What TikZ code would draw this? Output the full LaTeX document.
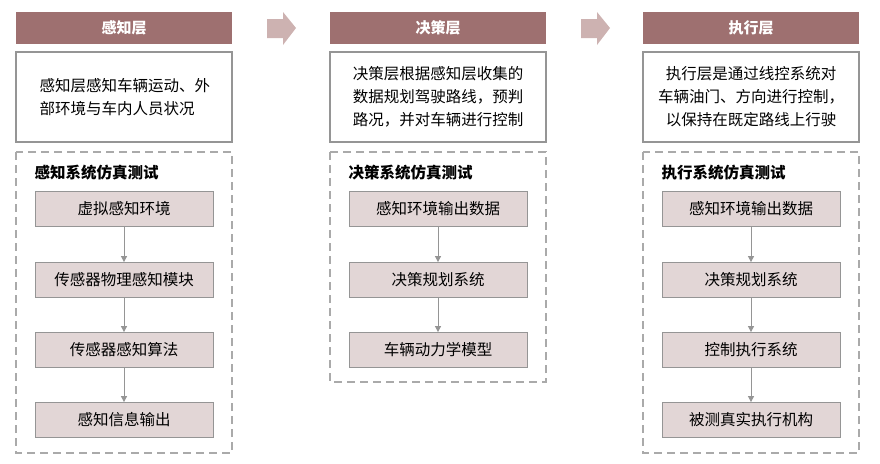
\documentclass[tikz,border=0pt]{standalone}
\usepackage{fontspec}
\setmainfont{Noto Sans CJK SC}
\usepackage{xcolor}
\usetikzlibrary{positioning, shapes, arrows.meta, calc}

\definecolor{headred}{HTML}{9E7070}
\definecolor{arrowpink}{HTML}{CDB2B1}
\definecolor{boxfill}{HTML}{E2D6D6}
\definecolor{linegray}{HTML}{959595}

\tikzset{
  header/.style={fill=headred, minimum width=216pt, minimum height=32pt, text=white, font=\fontsize{15}{18}\selectfont\bfseries},
  descbox/.style={draw=linegray, line width=1.5pt, minimum width=216pt, minimum height=90pt},
  testarea/.style={draw=linegray!80, line width=1.2pt, dash pattern=on 8pt off 5pt},
  stepbox/.style={draw=linegray, fill=boxfill, line width=0.8pt, minimum width=178pt, minimum height=35pt, font=\fontsize{15.5}{18}\selectfont},
  flow/.style={-{Triangle[length=6pt,width=6pt]}, draw=linegray, line width=0.8pt},
  desctext/.style={text width=200pt, align=center, font=\fontsize{15.5}{23}\selectfont},
  testtitle/.style={anchor=west, font=\fontsize{15.5}{18}\selectfont\bfseries}
}

\begin{document}
\begin{tikzpicture}[x=1pt, y=-1pt]
  \useasboundingbox (0,0) rectangle (880,463);

  % Headers
  \node[header] (h1) at (124,28) {感知层};
  \node[header] (h2) at (438,28) {决策层};
  \node[header] (h3) at (751,28) {执行层};

  % Arrows between headers
  \fill[arrowpink] (267,19) -- (283,19) -- (283,12) -- (296,28) -- (283,45) -- (283,38) -- (267,38) -- cycle;
  \fill[arrowpink] (581,19) -- (597,19) -- (597,12) -- (610,28) -- (597,45) -- (597,38) -- (581,38) -- cycle;

  % Description boxes
  \node[descbox] (d1) at (124,97) {};
  \node[descbox] (d2) at (438,97) {};
  \node[descbox] (d3) at (751,97) {};
  \node[anchor=west, align=left, font=\fontsize{15.5}{23}\selectfont] at (36,97) {感知层感知车辆运动、外\\部环境与车内人员状况};
  \node[desctext] at (d2) {决策层根据感知层收集的\\数据规划驾驶路线，预判\\路况，并对车辆进行控制};
  \node[desctext] at (d3) {执行层是通过线控系统对\\车辆油门、方向进行控制，\\以保持在既定路线上行驶};

  % Test areas
  \draw[testarea] (16,152) rectangle (232,453);
  \draw[testarea] (330,152) rectangle (546,382);
  \draw[testarea] (643,152) rectangle (859,453);
  \node[testtitle] at (31,173) {感知系统仿真测试};
  \node[testtitle] at (345,173) {决策系统仿真测试};
  \node[testtitle] at (658,173) {执行系统仿真测试};

  % Perception column
  \node[stepbox] (p1) at (124,209) {虚拟感知环境};
  \node[stepbox] (p2) at (124,280) {传感器物理感知模块};
  \node[stepbox] (p3) at (124,350) {传感器感知算法};
  \node[stepbox] (p4) at (124,420) {感知信息输出};
  \draw[flow] (p1) -- (p2);
  \draw[flow] (p2) -- (p3);
  \draw[flow] (p3) -- (p4);

  % Decision column
  \node[stepbox] (q1) at (438,209) {感知环境输出数据};
  \node[stepbox] (q2) at (438,280) {决策规划系统};
  \node[stepbox] (q3) at (438,350) {车辆动力学模型};
  \draw[flow] (q1) -- (q2);
  \draw[flow] (q2) -- (q3);

  % Execution column
  \node[stepbox] (r1) at (751,209) {感知环境输出数据};
  \node[stepbox] (r2) at (751,280) {决策规划系统};
  \node[stepbox] (r3) at (751,350) {控制执行系统};
  \node[stepbox] (r4) at (751,420) {被测真实执行机构};
  \draw[flow] (r1) -- (r2);
  \draw[flow] (r2) -- (r3);
  \draw[flow] (r3) -- (r4);
\end{tikzpicture}
\end{document}
